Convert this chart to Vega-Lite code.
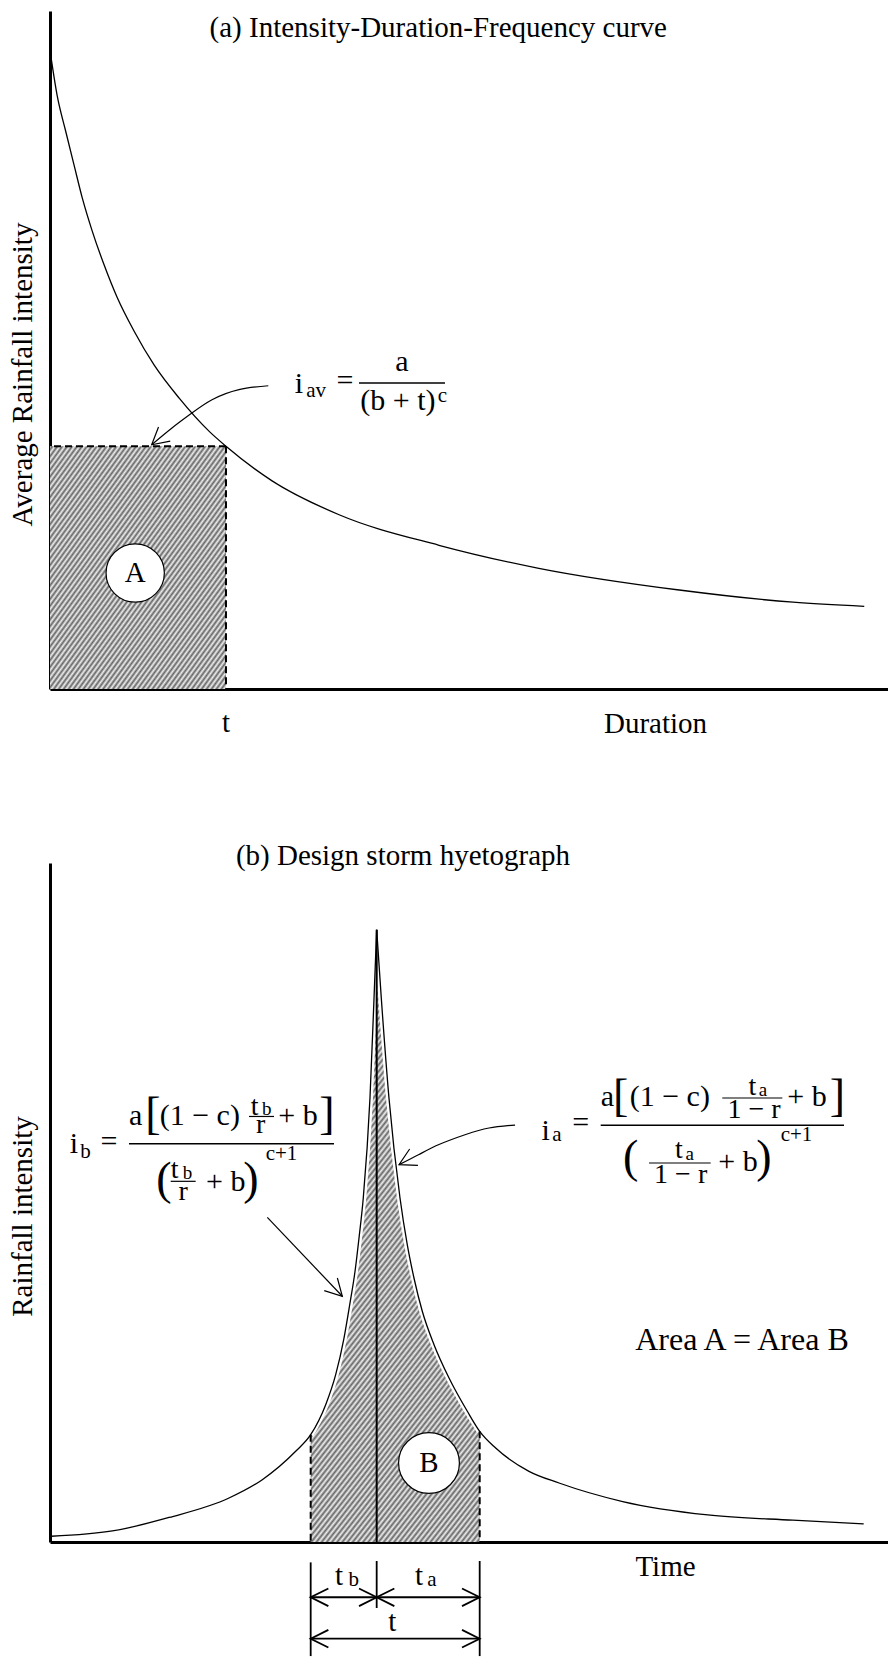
{
  "$schema": "https://vega.github.io/schema/vega-lite/v6.json",
  "background": "white",
  "padding": {"left": 8, "top": 11, "right": 0, "bottom": 0},
  "config": {
    "view": {"stroke": null},
    "axis": {
      "domainColor": "black", "domainWidth": 3, "ticks": false, "labels": false, "grid": false,
      "titleFont": "Liberation Serif", "titleFontSize": 29, "titleFontWeight": "normal", "titleColor": "black"
    },
    "text": {"font": "Liberation Serif", "color": "black", "align": "center", "baseline": "alphabetic"}
  },
  "datasets": {
    "idfCurve": [
      {"duration": 0, "intensity": 94.2}, {"duration": 1.05, "intensity": 87.4}, {"duration": 2.24, "intensity": 82.3},
      {"duration": 3.44, "intensity": 77.3}, {"duration": 4.63, "intensity": 72.4}, {"duration": 6.06, "intensity": 67.5},
      {"duration": 7.73, "intensity": 62.6}, {"duration": 9.64, "intensity": 57.7}, {"duration": 12.03, "intensity": 52.8},
      {"duration": 14.9, "intensity": 47.8}, {"duration": 18.5, "intensity": 42.9}, {"duration": 22.8, "intensity": 38.0},
      {"duration": 25.2, "intensity": 35.8}, {"duration": 31.8, "intensity": 30.7}, {"duration": 41.4, "intensity": 25.7},
      {"duration": 55.7, "intensity": 21.2}, {"duration": 70.0, "intensity": 17.8}, {"duration": 90.1, "intensity": 14.6},
      {"duration": 106.4, "intensity": 12.8}, {"duration": 116.6, "intensity": 12.2}
    ],
    "designStorm": [{"duration": 25.2, "intensity": 35.8}],
    "circleA": [{"duration": 12.2, "intensity": 17.1}],
    "idfArrow": [
      {"order": 1, "duration": 31.26, "intensity": 44.73}, {"order": 2, "duration": 27.06, "intensity": 44.16},
      {"order": 3, "duration": 23.2, "intensity": 42.67}, {"order": 4, "duration": 20.33, "intensity": 40.71},
      {"order": 5, "duration": 17.47, "intensity": 38.5}, {"order": 6, "duration": 14.56, "intensity": 36.03}
    ],
    "idfArrowTip": [{"duration": 14.56, "intensity": 36.03}],
    "idfNotes": [
      {"duration": 55.6, "intensity": 96.21, "text": "(a) Intensity-Duration-Frequency curve", "kind": "heading"},
      {"duration": 25.2, "intensity": -6.3, "text": "t", "kind": "label"},
      {"duration": 12.2, "intensity": 15.83, "text": "A", "kind": "label"},
      {"duration": 35.66, "intensity": 43.66, "text": "i", "kind": "main"},
      {"duration": 38.1, "intensity": 43.07, "text": "av", "kind": "sub"},
      {"duration": 42.24, "intensity": 44.1, "text": "=", "kind": "main"},
      {"duration": 50.41, "intensity": 46.9, "text": "a", "kind": "main"},
      {"duration": 49.83, "intensity": 41.15, "text": "(b + t)", "kind": "main"},
      {"duration": 56.2, "intensity": 42.33, "text": "c", "kind": "sub"}
    ],
    "idfBars": [{"duration": 44.25, "end": 56.56, "intensity": 45.13}],
    "storm": [
      {"limb": "before", "time": 0.2, "intensity": 0.85}, {"limb": "before", "time": 8.94, "intensity": 1.63},
      {"limb": "before", "time": 17.05, "intensity": 3.61}, {"limb": "before", "time": 25.63, "intensity": 6.48},
      {"limb": "before", "time": 30.4, "intensity": 9.18}, {"limb": "before", "time": 35.18, "intensity": 13.36},
      {"limb": "before", "time": 37.33, "intensity": 15.8}, {"limb": "before", "time": 39.48, "intensity": 20.22},
      {"limb": "before", "time": 40.91, "intensity": 24.64}, {"limb": "before", "time": 42.1, "intensity": 30.04},
      {"limb": "before", "time": 42.92, "intensity": 34.95}, {"limb": "before", "time": 43.68, "intensity": 39.87},
      {"limb": "before", "time": 44.25, "intensity": 44.77}, {"limb": "before", "time": 44.86, "intensity": 50.66},
      {"limb": "before", "time": 45.82, "intensity": 65.39}, {"limb": "before", "time": 46.4, "intensity": 80.12},
      {"limb": "before", "time": 46.78, "intensity": 90.18},
      {"limb": "after", "time": 46.78, "intensity": 90.18}, {"limb": "after", "time": 47.44, "intensity": 80.12},
      {"limb": "after", "time": 48.54, "intensity": 65.39}, {"limb": "after", "time": 50.12, "intensity": 50.66},
      {"limb": "after", "time": 51.16, "intensity": 43.78}, {"limb": "after", "time": 52.12, "intensity": 38.88},
      {"limb": "after", "time": 53.31, "intensity": 33.98}, {"limb": "after", "time": 54.99, "intensity": 29.06},
      {"limb": "after", "time": 57.14, "intensity": 24.15}, {"limb": "after", "time": 59.76, "intensity": 19.25},
      {"limb": "after", "time": 61.53, "intensity": 16.3}, {"limb": "after", "time": 63.82, "intensity": 13.84},
      {"limb": "after", "time": 68.59, "intensity": 10.41}, {"limb": "after", "time": 72.89, "intensity": 8.69},
      {"limb": "after", "time": 82.01, "intensity": 5.96}, {"limb": "after", "time": 94.2, "intensity": 3.99},
      {"limb": "after", "time": 106.37, "intensity": 3.21}, {"limb": "after", "time": 116.52, "intensity": 2.67}
    ],
    "stormEdges": [{"time": 37.33, "intensity": 15.8}, {"time": 61.53, "intensity": 16.3}],
    "stormPeak": [{"time": 46.78, "intensity": 90.18}],
    "circleB": [{"time": 54.27, "intensity": 11.63}],
    "pointerLeft": [
      {"order": 1, "time": 31.12, "intensity": 47.82}, {"order": 2, "time": 41.86, "intensity": 36.19}
    ],
    "pointerLeftTip": [{"time": 41.86, "intensity": 36.19}],
    "pointerRight": [
      {"order": 1, "time": 66.59, "intensity": 61.41}, {"order": 2, "time": 62.86, "intensity": 60.97},
      {"order": 3, "time": 59.53, "intensity": 60.02}, {"order": 4, "time": 55.7, "intensity": 58.54},
      {"order": 5, "time": 52.84, "intensity": 57.07}, {"order": 6, "time": 49.98, "intensity": 55.57}
    ],
    "pointerRightTip": [{"time": 49.98, "intensity": 55.57}],
    "stormNotes": [
      {"time": 50.55, "intensity": 99.75, "text": "(b) Design storm hyetograph", "kind": "heading"},
      {"time": 99.09, "intensity": 28.23, "text": "Area A = Area B", "kind": "note"},
      {"time": 54.27, "intensity": 10.35, "text": "B", "kind": "label"},
      {"time": 41.38, "intensity": -6.33, "text": "t", "kind": "label"},
      {"time": 43.5, "intensity": -6.48, "text": "b", "kind": "dimsub"},
      {"time": 52.84, "intensity": -6.33, "text": "t", "kind": "label"},
      {"time": 54.7, "intensity": -6.48, "text": "a", "kind": "dimsub"},
      {"time": 49.02, "intensity": -13.11, "text": "t", "kind": "label"},
      {"time": 3.44, "intensity": 57.29, "text": "i", "kind": "main"},
      {"time": 5.1, "intensity": 56.55, "text": "b", "kind": "sub"},
      {"time": 8.45, "intensity": 57.63, "text": "=", "kind": "main"},
      {"time": 12.27, "intensity": 61.46, "text": "a", "kind": "main"},
      {"time": 14.75, "intensity": 60.82, "text": "[", "kind": "bracket"},
      {"time": 21.45, "intensity": 61.41, "text": "(1 − c)", "kind": "main"},
      {"time": 29.31, "intensity": 62.93, "text": "t", "kind": "inner"},
      {"time": 31.05, "intensity": 62.89, "text": "b", "kind": "innersub"},
      {"time": 30.17, "intensity": 60.24, "text": "r", "kind": "inner"},
      {"time": 35.51, "intensity": 61.41, "text": "+ b", "kind": "main"},
      {"time": 39.67, "intensity": 60.82, "text": "]", "kind": "bracket"},
      {"time": 16.32, "intensity": 51.25, "text": "(", "kind": "bracket"},
      {"time": 17.86, "intensity": 53.61, "text": "t", "kind": "inner"},
      {"time": 19.7, "intensity": 53.46, "text": "b", "kind": "innersub"},
      {"time": 19.05, "intensity": 50.37, "text": "r", "kind": "inner"},
      {"time": 25.16, "intensity": 51.65, "text": "+ b", "kind": "main"},
      {"time": 28.78, "intensity": 51.25, "text": ")", "kind": "bracket"},
      {"time": 33.15, "intensity": 56.26, "text": "c+1", "kind": "sub"},
      {"time": 70.98, "intensity": 59.25, "text": "i", "kind": "main"},
      {"time": 72.6, "intensity": 59.01, "text": "a", "kind": "sub"},
      {"time": 76.0, "intensity": 60.34, "text": "=", "kind": "main"},
      {"time": 79.81, "intensity": 64.17, "text": "a", "kind": "main"},
      {"time": 81.72, "intensity": 63.48, "text": "[", "kind": "bracket"},
      {"time": 88.75, "intensity": 64.17, "text": "(1 − c)", "kind": "main"},
      {"time": 100.57, "intensity": 65.88, "text": "t", "kind": "inner"},
      {"time": 102.1, "intensity": 65.68, "text": "a", "kind": "innersub"},
      {"time": 100.81, "intensity": 62.44, "text": "1 − r", "kind": "inner"},
      {"time": 108.4, "intensity": 64.17, "text": "+ b", "kind": "main"},
      {"time": 112.74, "intensity": 63.48, "text": "]", "kind": "bracket"},
      {"time": 83.15, "intensity": 54.49, "text": "(", "kind": "bracket"},
      {"time": 90.07, "intensity": 56.55, "text": "t", "kind": "inner"},
      {"time": 91.6, "intensity": 56.33, "text": "a", "kind": "innersub"},
      {"time": 90.31, "intensity": 52.87, "text": "1 − r", "kind": "inner"},
      {"time": 98.52, "intensity": 54.6, "text": "+ b", "kind": "main"},
      {"time": 102.24, "intensity": 54.49, "text": ")", "kind": "bracket"},
      {"time": 106.9, "intensity": 59.01, "text": "c+1", "kind": "sub"}
    ],
    "stormBars": [
      {"time": 11.31, "end": 40.67, "intensity": 58.66, "kind": "main"},
      {"time": 28.5, "end": 32.08, "intensity": 62.67, "kind": "inner"},
      {"time": 17.28, "end": 20.86, "intensity": 53.12, "kind": "inner"},
      {"time": 78.86, "end": 113.7, "intensity": 61.37, "kind": "main"},
      {"time": 96.27, "end": 104.87, "intensity": 65.39, "kind": "inner"},
      {"time": 85.78, "end": 94.61, "intensity": 55.82, "kind": "inner"}
    ],
    "spanTicks": [
      {"time": 37.33, "top": -3.0, "bottom": -16.8},
      {"time": 46.78, "top": -2.8, "bottom": -9.72},
      {"time": 61.53, "top": -2.8, "bottom": -16.8}
    ],
    "spans": [
      {"from": 37.33, "to": 46.78, "level": -8.14},
      {"from": 46.78, "to": 61.53, "level": -8.14},
      {"from": 37.33, "to": 61.53, "level": -14.24}
    ]
  },
  "bounds": "flush",
  "spacing": 174,
  "resolve": {"scale": {"x": "independent", "y": "independent"}},
  "vconcat": [
    {
      "width": 838,
      "height": 678,
      "layer": [
        {
          "data": {"name": "designStorm"},
          "mark": {
            "type": "rect",
            "fill": {
              "gradient": "linear", "x1": 0, "y1": 0, "x2": 1, "y2": 1,
              "stops": [
                {"offset": 0, "color": "#eee"}, {"offset": 0.007, "color": "#666"}, {"offset": 0.014, "color": "#eee"}, {"offset": 0.021, "color": "#666"},
                {"offset": 0.028, "color": "#eee"}, {"offset": 0.035, "color": "#666"}, {"offset": 0.042, "color": "#eee"}, {"offset": 0.049, "color": "#666"},
                {"offset": 0.056, "color": "#eee"}, {"offset": 0.063, "color": "#666"}, {"offset": 0.07, "color": "#eee"}, {"offset": 0.077, "color": "#666"},
                {"offset": 0.084, "color": "#eee"}, {"offset": 0.091, "color": "#666"}, {"offset": 0.098, "color": "#eee"}, {"offset": 0.105, "color": "#666"},
                {"offset": 0.112, "color": "#eee"}, {"offset": 0.119, "color": "#666"}, {"offset": 0.126, "color": "#eee"}, {"offset": 0.133, "color": "#666"},
                {"offset": 0.14, "color": "#eee"}, {"offset": 0.147, "color": "#666"}, {"offset": 0.154, "color": "#eee"}, {"offset": 0.161, "color": "#666"},
                {"offset": 0.168, "color": "#eee"}, {"offset": 0.175, "color": "#666"}, {"offset": 0.182, "color": "#eee"}, {"offset": 0.189, "color": "#666"},
                {"offset": 0.196, "color": "#eee"}, {"offset": 0.203, "color": "#666"}, {"offset": 0.21, "color": "#eee"}, {"offset": 0.217, "color": "#666"},
                {"offset": 0.224, "color": "#eee"}, {"offset": 0.231, "color": "#666"}, {"offset": 0.238, "color": "#eee"}, {"offset": 0.245, "color": "#666"},
                {"offset": 0.252, "color": "#eee"}, {"offset": 0.259, "color": "#666"}, {"offset": 0.266, "color": "#eee"}, {"offset": 0.273, "color": "#666"},
                {"offset": 0.28, "color": "#eee"}, {"offset": 0.287, "color": "#666"}, {"offset": 0.294, "color": "#eee"}, {"offset": 0.301, "color": "#666"},
                {"offset": 0.308, "color": "#eee"}, {"offset": 0.315, "color": "#666"}, {"offset": 0.322, "color": "#eee"}, {"offset": 0.329, "color": "#666"},
                {"offset": 0.336, "color": "#eee"}, {"offset": 0.343, "color": "#666"}, {"offset": 0.35, "color": "#eee"}, {"offset": 0.357, "color": "#666"},
                {"offset": 0.364, "color": "#eee"}, {"offset": 0.371, "color": "#666"}, {"offset": 0.378, "color": "#eee"}, {"offset": 0.385, "color": "#666"},
                {"offset": 0.392, "color": "#eee"}, {"offset": 0.399, "color": "#666"}, {"offset": 0.406, "color": "#eee"}, {"offset": 0.413, "color": "#666"},
                {"offset": 0.42, "color": "#eee"}, {"offset": 0.427, "color": "#666"}, {"offset": 0.434, "color": "#eee"}, {"offset": 0.441, "color": "#666"},
                {"offset": 0.448, "color": "#eee"}, {"offset": 0.455, "color": "#666"}, {"offset": 0.462, "color": "#eee"}, {"offset": 0.469, "color": "#666"},
                {"offset": 0.476, "color": "#eee"}, {"offset": 0.483, "color": "#666"}, {"offset": 0.49, "color": "#eee"}, {"offset": 0.497, "color": "#666"},
                {"offset": 0.504, "color": "#eee"}, {"offset": 0.511, "color": "#666"}, {"offset": 0.518, "color": "#eee"}, {"offset": 0.525, "color": "#666"},
                {"offset": 0.532, "color": "#eee"}, {"offset": 0.539, "color": "#666"}, {"offset": 0.546, "color": "#eee"}, {"offset": 0.553, "color": "#666"},
                {"offset": 0.56, "color": "#eee"}, {"offset": 0.567, "color": "#666"}, {"offset": 0.574, "color": "#eee"}, {"offset": 0.581, "color": "#666"},
                {"offset": 0.588, "color": "#eee"}, {"offset": 0.595, "color": "#666"}, {"offset": 0.602, "color": "#eee"}, {"offset": 0.609, "color": "#666"},
                {"offset": 0.616, "color": "#eee"}, {"offset": 0.623, "color": "#666"}, {"offset": 0.63, "color": "#eee"}, {"offset": 0.637, "color": "#666"},
                {"offset": 0.644, "color": "#eee"}, {"offset": 0.651, "color": "#666"}, {"offset": 0.658, "color": "#eee"}, {"offset": 0.665, "color": "#666"},
                {"offset": 0.672, "color": "#eee"}, {"offset": 0.679, "color": "#666"}, {"offset": 0.686, "color": "#eee"}, {"offset": 0.693, "color": "#666"},
                {"offset": 0.7, "color": "#eee"}, {"offset": 0.707, "color": "#666"}, {"offset": 0.714, "color": "#eee"}, {"offset": 0.721, "color": "#666"},
                {"offset": 0.728, "color": "#eee"}, {"offset": 0.735, "color": "#666"}, {"offset": 0.742, "color": "#eee"}, {"offset": 0.749, "color": "#666"},
                {"offset": 0.756, "color": "#eee"}, {"offset": 0.763, "color": "#666"}, {"offset": 0.77, "color": "#eee"}, {"offset": 0.777, "color": "#666"},
                {"offset": 0.784, "color": "#eee"}, {"offset": 0.791, "color": "#666"}, {"offset": 0.798, "color": "#eee"}, {"offset": 0.805, "color": "#666"},
                {"offset": 0.812, "color": "#eee"}, {"offset": 0.819, "color": "#666"}, {"offset": 0.826, "color": "#eee"}, {"offset": 0.833, "color": "#666"},
                {"offset": 0.84, "color": "#eee"}, {"offset": 0.847, "color": "#666"}, {"offset": 0.854, "color": "#eee"}, {"offset": 0.861, "color": "#666"},
                {"offset": 0.868, "color": "#eee"}, {"offset": 0.875, "color": "#666"}, {"offset": 0.882, "color": "#eee"}, {"offset": 0.889, "color": "#666"},
                {"offset": 0.896, "color": "#eee"}, {"offset": 0.903, "color": "#666"}, {"offset": 0.91, "color": "#eee"}, {"offset": 0.917, "color": "#666"},
                {"offset": 0.924, "color": "#eee"}, {"offset": 0.931, "color": "#666"}, {"offset": 0.938, "color": "#eee"}, {"offset": 0.945, "color": "#666"},
                {"offset": 0.952, "color": "#eee"}, {"offset": 0.959, "color": "#666"}, {"offset": 0.966, "color": "#eee"}, {"offset": 0.973, "color": "#666"},
                {"offset": 0.98, "color": "#eee"}, {"offset": 0.987, "color": "#666"}, {"offset": 0.994, "color": "#eee"}, {"offset": 1, "color": "#666"}
              ]
            }
          },
          "encoding": {
            "x": {"field": "duration", "type": "quantitative", "scale": {"domain": [0, 120], "nice": false}},
            "x2": {"datum": 0},
            "y": {"field": "intensity", "type": "quantitative", "scale": {"domain": [0, 100], "nice": false}},
            "y2": {"datum": 0}
          }
        },
        {
          "data": {"name": "designStorm"},
          "mark": {"type": "rule", "color": "black", "strokeWidth": 2, "strokeDash": [7, 4]},
          "encoding": {
            "x": {"field": "duration", "type": "quantitative", "scale": {"domain": [0, 120], "nice": false}},
            "x2": {"datum": 0},
            "y": {"field": "intensity", "type": "quantitative", "scale": {"domain": [0, 100], "nice": false}}
          }
        },
        {
          "data": {"name": "designStorm"},
          "mark": {"type": "rule", "color": "black", "strokeWidth": 2, "strokeDash": [7, 4]},
          "encoding": {
            "x": {"field": "duration", "type": "quantitative", "scale": {"domain": [0, 120], "nice": false}},
            "y": {"field": "intensity", "type": "quantitative", "scale": {"domain": [0, 100], "nice": false}},
            "y2": {"datum": 0}
          }
        },
        {
          "data": {"name": "idfCurve"},
          "mark": {"type": "line", "color": "black", "strokeWidth": 1.3, "interpolate": "monotone"},
          "encoding": {
            "x": {
              "field": "duration", "type": "quantitative", "scale": {"domain": [0, 120], "nice": false},
              "axis": {"title": "Duration", "titleX": 605, "titleY": 34, "titleAlign": "center", "titleBaseline": "middle"}
            },
            "y": {
              "field": "intensity", "type": "quantitative", "scale": {"domain": [0, 100], "nice": false},
              "axis": {"title": "Average Rainfall intensity", "titleX": -28, "titleY": 363, "titleAngle": 270, "titleAlign": "center", "titleBaseline": "middle"}
            }
          }
        },
        {
          "data": {"name": "idfArrow"},
          "mark": {"type": "line", "color": "black", "strokeWidth": 1.2, "interpolate": "natural"},
          "encoding": {
            "x": {"field": "duration", "type": "quantitative", "scale": {"domain": [0, 120], "nice": false}},
            "y": {"field": "intensity", "type": "quantitative", "scale": {"domain": [0, 100], "nice": false}},
            "order": {"field": "order", "type": "quantitative"}
          }
        },
        {
          "data": {"name": "idfArrowTip"},
          "mark": {"type": "point", "shape": "M-1,-0.55L0,0L-1,0.55", "size": 1100, "angle": 140, "filled": false, "stroke": "black", "strokeWidth": 1.2, "opacity": 1},
          "encoding": {
            "x": {"field": "duration", "type": "quantitative", "scale": {"domain": [0, 120], "nice": false}},
            "y": {"field": "intensity", "type": "quantitative", "scale": {"domain": [0, 100], "nice": false}}
          }
        },
        {
          "data": {"name": "circleA"},
          "mark": {"type": "point", "shape": "circle", "size": 3400, "filled": true, "fill": "white", "stroke": "black", "strokeWidth": 1.2, "opacity": 1},
          "encoding": {
            "x": {"field": "duration", "type": "quantitative", "scale": {"domain": [0, 120], "nice": false}},
            "y": {"field": "intensity", "type": "quantitative", "scale": {"domain": [0, 100], "nice": false}}
          }
        },
        {
          "data": {"name": "idfBars"},
          "mark": {"type": "rule", "color": "black", "strokeWidth": 1.6},
          "encoding": {
            "x": {"field": "duration", "type": "quantitative", "scale": {"domain": [0, 120], "nice": false}},
            "x2": {"field": "end"},
            "y": {"field": "intensity", "type": "quantitative", "scale": {"domain": [0, 100], "nice": false}}
          }
        },
        {
          "data": {"name": "idfNotes"},
          "encoding": {
            "x": {"field": "duration", "type": "quantitative", "scale": {"domain": [0, 120], "nice": false}},
            "y": {"field": "intensity", "type": "quantitative", "scale": {"domain": [0, 100], "nice": false}},
            "text": {"field": "text", "type": "nominal"}
          },
          "layer": [
            {"transform": [{"filter": "datum.kind === 'heading' || datum.kind === 'label'"}], "mark": {"type": "text", "font": "Liberation Serif", "fontSize": 29}},
            {"transform": [{"filter": "datum.kind === 'main'"}], "mark": {"type": "text", "font": "Liberation Serif", "fontSize": 30}},
            {"transform": [{"filter": "datum.kind === 'sub'"}], "mark": {"type": "text", "font": "Liberation Serif", "fontSize": 21}}
          ]
        }
      ]
    },
    {
      "width": 838,
      "height": 679,
      "layer": [
        {
          "data": {"name": "storm"},
          "transform": [{"filter": "datum.time >= 37.3 && datum.time <= 61.6"}],
          "mark": {
            "type": "area", "interpolate": "linear",
            "fill": {
              "gradient": "linear", "x1": 0, "y1": 0, "x2": 0.425, "y2": 1.203,
              "stops": [
                {"offset": 0, "color": "#eee"}, {"offset": 0.004, "color": "#666"}, {"offset": 0.008, "color": "#eee"}, {"offset": 0.012, "color": "#666"}, {"offset": 0.016, "color": "#eee"},
                {"offset": 0.02, "color": "#666"}, {"offset": 0.024, "color": "#eee"}, {"offset": 0.028, "color": "#666"}, {"offset": 0.032, "color": "#eee"}, {"offset": 0.036, "color": "#666"},
                {"offset": 0.04, "color": "#eee"}, {"offset": 0.044, "color": "#666"}, {"offset": 0.048, "color": "#eee"}, {"offset": 0.052, "color": "#666"}, {"offset": 0.056, "color": "#eee"},
                {"offset": 0.06, "color": "#666"}, {"offset": 0.064, "color": "#eee"}, {"offset": 0.068, "color": "#666"}, {"offset": 0.072, "color": "#eee"}, {"offset": 0.076, "color": "#666"},
                {"offset": 0.08, "color": "#eee"}, {"offset": 0.084, "color": "#666"}, {"offset": 0.088, "color": "#eee"}, {"offset": 0.092, "color": "#666"}, {"offset": 0.096, "color": "#eee"},
                {"offset": 0.1, "color": "#666"}, {"offset": 0.104, "color": "#eee"}, {"offset": 0.108, "color": "#666"}, {"offset": 0.112, "color": "#eee"}, {"offset": 0.116, "color": "#666"},
                {"offset": 0.12, "color": "#eee"}, {"offset": 0.124, "color": "#666"}, {"offset": 0.128, "color": "#eee"}, {"offset": 0.132, "color": "#666"}, {"offset": 0.136, "color": "#eee"},
                {"offset": 0.14, "color": "#666"}, {"offset": 0.144, "color": "#eee"}, {"offset": 0.148, "color": "#666"}, {"offset": 0.152, "color": "#eee"}, {"offset": 0.156, "color": "#666"},
                {"offset": 0.16, "color": "#eee"}, {"offset": 0.164, "color": "#666"}, {"offset": 0.168, "color": "#eee"}, {"offset": 0.172, "color": "#666"}, {"offset": 0.176, "color": "#eee"},
                {"offset": 0.18, "color": "#666"}, {"offset": 0.184, "color": "#eee"}, {"offset": 0.188, "color": "#666"}, {"offset": 0.192, "color": "#eee"}, {"offset": 0.196, "color": "#666"},
                {"offset": 0.2, "color": "#eee"}, {"offset": 0.204, "color": "#666"}, {"offset": 0.208, "color": "#eee"}, {"offset": 0.212, "color": "#666"}, {"offset": 0.216, "color": "#eee"},
                {"offset": 0.22, "color": "#666"}, {"offset": 0.224, "color": "#eee"}, {"offset": 0.228, "color": "#666"}, {"offset": 0.232, "color": "#eee"}, {"offset": 0.236, "color": "#666"},
                {"offset": 0.24, "color": "#eee"}, {"offset": 0.244, "color": "#666"}, {"offset": 0.248, "color": "#eee"}, {"offset": 0.252, "color": "#666"}, {"offset": 0.256, "color": "#eee"},
                {"offset": 0.26, "color": "#666"}, {"offset": 0.264, "color": "#eee"}, {"offset": 0.268, "color": "#666"}, {"offset": 0.272, "color": "#eee"}, {"offset": 0.276, "color": "#666"},
                {"offset": 0.28, "color": "#eee"}, {"offset": 0.284, "color": "#666"}, {"offset": 0.288, "color": "#eee"}, {"offset": 0.292, "color": "#666"}, {"offset": 0.296, "color": "#eee"},
                {"offset": 0.3, "color": "#666"}, {"offset": 0.304, "color": "#eee"}, {"offset": 0.308, "color": "#666"}, {"offset": 0.312, "color": "#eee"}, {"offset": 0.316, "color": "#666"},
                {"offset": 0.32, "color": "#eee"}, {"offset": 0.324, "color": "#666"}, {"offset": 0.328, "color": "#eee"}, {"offset": 0.332, "color": "#666"}, {"offset": 0.336, "color": "#eee"},
                {"offset": 0.34, "color": "#666"}, {"offset": 0.344, "color": "#eee"}, {"offset": 0.348, "color": "#666"}, {"offset": 0.352, "color": "#eee"}, {"offset": 0.356, "color": "#666"},
                {"offset": 0.36, "color": "#eee"}, {"offset": 0.364, "color": "#666"}, {"offset": 0.368, "color": "#eee"}, {"offset": 0.372, "color": "#666"}, {"offset": 0.376, "color": "#eee"},
                {"offset": 0.38, "color": "#666"}, {"offset": 0.384, "color": "#eee"}, {"offset": 0.388, "color": "#666"}, {"offset": 0.392, "color": "#eee"}, {"offset": 0.396, "color": "#666"},
                {"offset": 0.4, "color": "#eee"}, {"offset": 0.404, "color": "#666"}, {"offset": 0.408, "color": "#eee"}, {"offset": 0.412, "color": "#666"}, {"offset": 0.416, "color": "#eee"},
                {"offset": 0.42, "color": "#666"}, {"offset": 0.424, "color": "#eee"}, {"offset": 0.428, "color": "#666"}, {"offset": 0.432, "color": "#eee"}, {"offset": 0.436, "color": "#666"},
                {"offset": 0.44, "color": "#eee"}, {"offset": 0.444, "color": "#666"}, {"offset": 0.448, "color": "#eee"}, {"offset": 0.452, "color": "#666"}, {"offset": 0.456, "color": "#eee"},
                {"offset": 0.46, "color": "#666"}, {"offset": 0.464, "color": "#eee"}, {"offset": 0.468, "color": "#666"}, {"offset": 0.472, "color": "#eee"}, {"offset": 0.476, "color": "#666"},
                {"offset": 0.48, "color": "#eee"}, {"offset": 0.484, "color": "#666"}, {"offset": 0.488, "color": "#eee"}, {"offset": 0.492, "color": "#666"}, {"offset": 0.496, "color": "#eee"},
                {"offset": 0.5, "color": "#666"}, {"offset": 0.504, "color": "#eee"}, {"offset": 0.508, "color": "#666"}, {"offset": 0.512, "color": "#eee"}, {"offset": 0.516, "color": "#666"},
                {"offset": 0.52, "color": "#eee"}, {"offset": 0.524, "color": "#666"}, {"offset": 0.528, "color": "#eee"}, {"offset": 0.532, "color": "#666"}, {"offset": 0.536, "color": "#eee"},
                {"offset": 0.54, "color": "#666"}, {"offset": 0.544, "color": "#eee"}, {"offset": 0.548, "color": "#666"}, {"offset": 0.552, "color": "#eee"}, {"offset": 0.556, "color": "#666"},
                {"offset": 0.56, "color": "#eee"}, {"offset": 0.564, "color": "#666"}, {"offset": 0.568, "color": "#eee"}, {"offset": 0.572, "color": "#666"}, {"offset": 0.576, "color": "#eee"},
                {"offset": 0.58, "color": "#666"}, {"offset": 0.584, "color": "#eee"}, {"offset": 0.588, "color": "#666"}, {"offset": 0.592, "color": "#eee"}, {"offset": 0.596, "color": "#666"},
                {"offset": 0.6, "color": "#eee"}, {"offset": 0.604, "color": "#666"}, {"offset": 0.608, "color": "#eee"}, {"offset": 0.612, "color": "#666"}, {"offset": 0.616, "color": "#eee"},
                {"offset": 0.62, "color": "#666"}, {"offset": 0.624, "color": "#eee"}, {"offset": 0.628, "color": "#666"}, {"offset": 0.632, "color": "#eee"}, {"offset": 0.636, "color": "#666"},
                {"offset": 0.64, "color": "#eee"}, {"offset": 0.644, "color": "#666"}, {"offset": 0.648, "color": "#eee"}, {"offset": 0.652, "color": "#666"}, {"offset": 0.656, "color": "#eee"},
                {"offset": 0.66, "color": "#666"}, {"offset": 0.664, "color": "#eee"}, {"offset": 0.668, "color": "#666"}, {"offset": 0.672, "color": "#eee"}, {"offset": 0.676, "color": "#666"},
                {"offset": 0.68, "color": "#eee"}, {"offset": 0.684, "color": "#666"}, {"offset": 0.688, "color": "#eee"}, {"offset": 0.692, "color": "#666"}, {"offset": 0.696, "color": "#eee"},
                {"offset": 0.7, "color": "#666"}, {"offset": 0.704, "color": "#eee"}, {"offset": 0.708, "color": "#666"}, {"offset": 0.712, "color": "#eee"}, {"offset": 0.716, "color": "#666"},
                {"offset": 0.72, "color": "#eee"}, {"offset": 0.724, "color": "#666"}, {"offset": 0.728, "color": "#eee"}, {"offset": 0.732, "color": "#666"}, {"offset": 0.736, "color": "#eee"},
                {"offset": 0.74, "color": "#666"}, {"offset": 0.744, "color": "#eee"}, {"offset": 0.748, "color": "#666"}, {"offset": 0.752, "color": "#eee"}, {"offset": 0.756, "color": "#666"},
                {"offset": 0.76, "color": "#eee"}, {"offset": 0.764, "color": "#666"}, {"offset": 0.768, "color": "#eee"}, {"offset": 0.772, "color": "#666"}, {"offset": 0.776, "color": "#eee"},
                {"offset": 0.78, "color": "#666"}, {"offset": 0.784, "color": "#eee"}, {"offset": 0.788, "color": "#666"}, {"offset": 0.792, "color": "#eee"}, {"offset": 0.796, "color": "#666"},
                {"offset": 0.8, "color": "#eee"}, {"offset": 0.804, "color": "#666"}, {"offset": 0.808, "color": "#eee"}, {"offset": 0.812, "color": "#666"}, {"offset": 0.816, "color": "#eee"},
                {"offset": 0.82, "color": "#666"}, {"offset": 0.824, "color": "#eee"}, {"offset": 0.828, "color": "#666"}, {"offset": 0.832, "color": "#eee"}, {"offset": 0.836, "color": "#666"},
                {"offset": 0.84, "color": "#eee"}, {"offset": 0.844, "color": "#666"}, {"offset": 0.848, "color": "#eee"}, {"offset": 0.852, "color": "#666"}, {"offset": 0.856, "color": "#eee"},
                {"offset": 0.86, "color": "#666"}, {"offset": 0.864, "color": "#eee"}, {"offset": 0.868, "color": "#666"}, {"offset": 0.872, "color": "#eee"}, {"offset": 0.876, "color": "#666"},
                {"offset": 0.88, "color": "#eee"}, {"offset": 0.884, "color": "#666"}, {"offset": 0.888, "color": "#eee"}, {"offset": 0.892, "color": "#666"}, {"offset": 0.896, "color": "#eee"},
                {"offset": 0.9, "color": "#666"}, {"offset": 0.904, "color": "#eee"}, {"offset": 0.908, "color": "#666"}, {"offset": 0.912, "color": "#eee"}, {"offset": 0.916, "color": "#666"},
                {"offset": 0.92, "color": "#eee"}, {"offset": 0.924, "color": "#666"}, {"offset": 0.928, "color": "#eee"}, {"offset": 0.932, "color": "#666"}, {"offset": 0.936, "color": "#eee"},
                {"offset": 0.94, "color": "#666"}, {"offset": 0.944, "color": "#eee"}, {"offset": 0.948, "color": "#666"}, {"offset": 0.952, "color": "#eee"}, {"offset": 0.956, "color": "#666"},
                {"offset": 0.96, "color": "#eee"}, {"offset": 0.964, "color": "#666"}, {"offset": 0.968, "color": "#eee"}, {"offset": 0.972, "color": "#666"}, {"offset": 0.976, "color": "#eee"},
                {"offset": 0.98, "color": "#666"}, {"offset": 0.984, "color": "#eee"}, {"offset": 0.988, "color": "#666"}, {"offset": 0.992, "color": "#eee"}, {"offset": 0.996, "color": "#666"},
                {"offset": 1, "color": "#eee"}
              ]
            }
          },
          "encoding": {
            "x": {"field": "time", "type": "quantitative", "scale": {"domain": [0, 120], "nice": false}},
            "y": {"field": "intensity", "type": "quantitative", "stack": null, "scale": {"domain": [0, 100], "nice": false}}
          }
        },
        {
          "data": {"name": "storm"},
          "transform": [{"filter": "datum.time >= 37 && datum.time <= 62"}],
          "mark": {"type": "line", "color": "white", "strokeWidth": 6, "interpolate": "monotone"},
          "encoding": {
            "x": {"field": "time", "type": "quantitative", "scale": {"domain": [0, 120], "nice": false}},
            "y": {"field": "intensity", "type": "quantitative", "scale": {"domain": [0, 100], "nice": false}},
            "detail": {"field": "limb", "type": "nominal"}
          }
        },
        {
          "data": {"name": "storm"},
          "mark": {"type": "line", "color": "black", "strokeWidth": 1.3, "interpolate": "monotone"},
          "encoding": {
            "x": {
              "field": "time", "type": "quantitative", "scale": {"domain": [0, 120], "nice": false},
              "axis": {"title": "Time", "titleX": 615, "titleY": 24, "titleAlign": "center", "titleBaseline": "middle"}
            },
            "y": {
              "field": "intensity", "type": "quantitative", "scale": {"domain": [0, 100], "nice": false},
              "axis": {"title": "Rainfall intensity", "titleX": -28, "titleY": 353, "titleAngle": 270, "titleAlign": "center", "titleBaseline": "middle"}
            },
            "detail": {"field": "limb", "type": "nominal"}
          }
        },
        {
          "data": {"name": "stormPeak"},
          "mark": {"type": "rule", "color": "black", "strokeWidth": 2},
          "encoding": {
            "x": {"field": "time", "type": "quantitative", "scale": {"domain": [0, 120], "nice": false}},
            "y": {"field": "intensity", "type": "quantitative", "scale": {"domain": [0, 100], "nice": false}},
            "y2": {"datum": 0}
          }
        },
        {
          "data": {"name": "stormEdges"},
          "mark": {"type": "rule", "color": "black", "strokeWidth": 2, "strokeDash": [7, 4]},
          "encoding": {
            "x": {"field": "time", "type": "quantitative", "scale": {"domain": [0, 120], "nice": false}},
            "y": {"field": "intensity", "type": "quantitative", "scale": {"domain": [0, 100], "nice": false}},
            "y2": {"datum": 0}
          }
        },
        {
          "data": {"name": "circleB"},
          "mark": {"type": "point", "shape": "circle", "size": 3700, "filled": true, "fill": "white", "stroke": "black", "strokeWidth": 1.2, "opacity": 1},
          "encoding": {
            "x": {"field": "time", "type": "quantitative", "scale": {"domain": [0, 120], "nice": false}},
            "y": {"field": "intensity", "type": "quantitative", "scale": {"domain": [0, 100], "nice": false}}
          }
        },
        {
          "data": {"name": "pointerLeft"},
          "mark": {"type": "line", "color": "black", "strokeWidth": 1.2},
          "encoding": {
            "x": {"field": "time", "type": "quantitative", "scale": {"domain": [0, 120], "nice": false}},
            "y": {"field": "intensity", "type": "quantitative", "scale": {"domain": [0, 100], "nice": false}},
            "order": {"field": "order", "type": "quantitative"}
          }
        },
        {
          "data": {"name": "pointerLeftTip"},
          "mark": {"type": "point", "shape": "M-1,-0.55L0,0L-1,0.55", "size": 1100, "angle": 46, "filled": false, "stroke": "black", "strokeWidth": 1.2, "opacity": 1},
          "encoding": {
            "x": {"field": "time", "type": "quantitative", "scale": {"domain": [0, 120], "nice": false}},
            "y": {"field": "intensity", "type": "quantitative", "scale": {"domain": [0, 100], "nice": false}}
          }
        },
        {
          "data": {"name": "pointerRight"},
          "mark": {"type": "line", "color": "black", "strokeWidth": 1.2, "interpolate": "natural"},
          "encoding": {
            "x": {"field": "time", "type": "quantitative", "scale": {"domain": [0, 120], "nice": false}},
            "y": {"field": "intensity", "type": "quantitative", "scale": {"domain": [0, 100], "nice": false}},
            "order": {"field": "order", "type": "quantitative"}
          }
        },
        {
          "data": {"name": "pointerRightTip"},
          "mark": {"type": "point", "shape": "M-1,-0.55L0,0L-1,0.55", "size": 1100, "angle": 153, "filled": false, "stroke": "black", "strokeWidth": 1.2, "opacity": 1},
          "encoding": {
            "x": {"field": "time", "type": "quantitative", "scale": {"domain": [0, 120], "nice": false}},
            "y": {"field": "intensity", "type": "quantitative", "scale": {"domain": [0, 100], "nice": false}}
          }
        },
        {
          "data": {"name": "stormBars"},
          "encoding": {
            "x": {"field": "time", "type": "quantitative", "scale": {"domain": [0, 120], "nice": false}},
            "x2": {"field": "end"},
            "y": {"field": "intensity", "type": "quantitative", "scale": {"domain": [0, 100], "nice": false}}
          },
          "layer": [
            {"transform": [{"filter": "datum.kind === 'main'"}], "mark": {"type": "rule", "color": "black", "strokeWidth": 1.6}},
            {"transform": [{"filter": "datum.kind === 'inner'"}], "mark": {"type": "rule", "color": "black", "strokeWidth": 1.2}}
          ]
        },
        {
          "data": {"name": "spanTicks"},
          "mark": {"type": "rule", "color": "black", "strokeWidth": 1.8},
          "encoding": {
            "x": {"field": "time", "type": "quantitative", "scale": {"domain": [0, 120], "nice": false}},
            "y": {"field": "top", "type": "quantitative", "scale": {"domain": [0, 100], "nice": false}},
            "y2": {"field": "bottom"}
          }
        },
        {
          "data": {"name": "spans"},
          "mark": {"type": "rule", "color": "black", "strokeWidth": 1.8},
          "encoding": {
            "x": {"field": "from", "type": "quantitative", "scale": {"domain": [0, 120], "nice": false}},
            "x2": {"field": "to"},
            "y": {"field": "level", "type": "quantitative", "scale": {"domain": [0, 100], "nice": false}}
          }
        },
        {
          "data": {"name": "spans"},
          "mark": {"type": "point", "shape": "M-1,-0.5L0,0L-1,0.5", "size": 1250, "angle": 180, "filled": false, "stroke": "black", "strokeWidth": 1.8, "opacity": 1},
          "encoding": {
            "x": {"field": "from", "type": "quantitative", "scale": {"domain": [0, 120], "nice": false}},
            "y": {"field": "level", "type": "quantitative", "scale": {"domain": [0, 100], "nice": false}}
          }
        },
        {
          "data": {"name": "spans"},
          "mark": {"type": "point", "shape": "M-1,-0.5L0,0L-1,0.5", "size": 1250, "angle": 0, "filled": false, "stroke": "black", "strokeWidth": 1.8, "opacity": 1},
          "encoding": {
            "x": {"field": "to", "type": "quantitative", "scale": {"domain": [0, 120], "nice": false}},
            "y": {"field": "level", "type": "quantitative", "scale": {"domain": [0, 100], "nice": false}}
          }
        },
        {
          "data": {"name": "stormNotes"},
          "encoding": {
            "x": {"field": "time", "type": "quantitative", "scale": {"domain": [0, 120], "nice": false}},
            "y": {"field": "intensity", "type": "quantitative", "scale": {"domain": [0, 100], "nice": false}},
            "text": {"field": "text", "type": "nominal"}
          },
          "layer": [
            {"transform": [{"filter": "datum.kind === 'heading' || datum.kind === 'label'"}], "mark": {"type": "text", "font": "Liberation Serif", "fontSize": 29}},
            {"transform": [{"filter": "datum.kind === 'note'"}], "mark": {"type": "text", "font": "Liberation Serif", "fontSize": 32}},
            {"transform": [{"filter": "datum.kind === 'main'"}], "mark": {"type": "text", "font": "Liberation Serif", "fontSize": 30}},
            {"transform": [{"filter": "datum.kind === 'sub'"}], "mark": {"type": "text", "font": "Liberation Serif", "fontSize": 21}},
            {"transform": [{"filter": "datum.kind === 'inner'"}], "mark": {"type": "text", "font": "Liberation Serif", "fontSize": 28}},
            {"transform": [{"filter": "datum.kind === 'innersub'"}], "mark": {"type": "text", "font": "Liberation Serif", "fontSize": 19}},
            {"transform": [{"filter": "datum.kind === 'dimsub'"}], "mark": {"type": "text", "font": "Liberation Serif", "fontSize": 21}},
            {"transform": [{"filter": "datum.kind === 'bracket'"}], "mark": {"type": "text", "font": "Liberation Serif", "fontSize": 46}}
          ]
        }
      ]
    }
  ]
}
